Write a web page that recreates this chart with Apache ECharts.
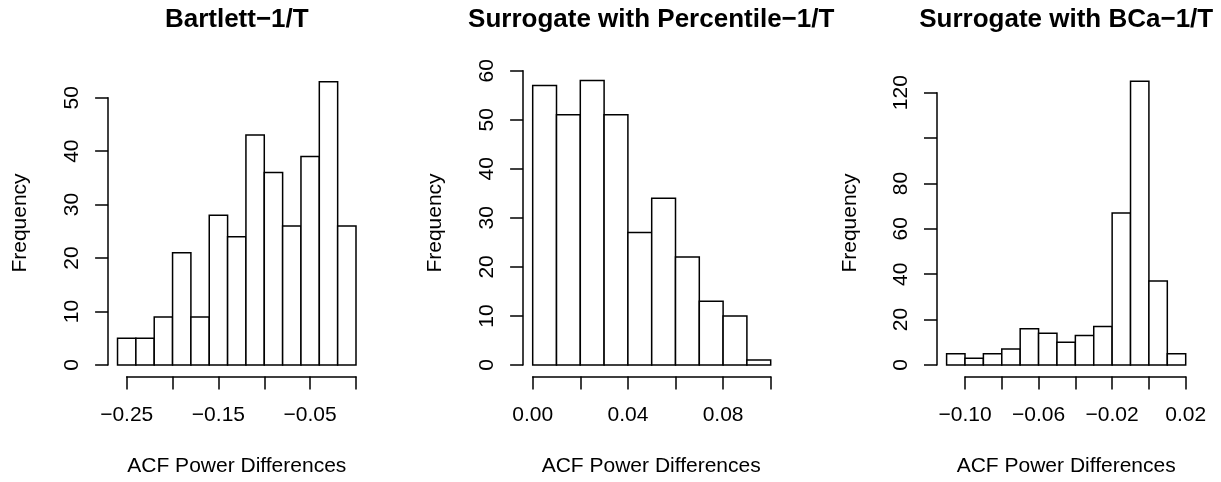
<!DOCTYPE html>
<html><head><meta charset="utf-8">
<script src="https://cdn.jsdelivr.net/npm/echarts@6/dist/echarts.min.js"></script>
<style>html,body{margin:0;padding:0;background:#fff}#c{width:1221px;height:482px}</style>
</head><body><div id="c"></div>
<script>
// ---------- data ----------
const titles = ['Bartlett\u22121/T', 'Surrogate with Percentile\u22121/T', 'Surrogate with BCa\u22121/T'];
const xTitle = 'ACF Power Differences';
const yTitle = 'Frequency';

// histogram bin edges and counts
const p1Edges = [-0.26,-0.24,-0.22,-0.20,-0.18,-0.16,-0.14,-0.12,-0.10,-0.08,-0.06,-0.04,-0.02,0.00];
const p1Counts = [5,5,9,21,9,28,24,43,36,26,39,53,26];

const p2Edges = [0.00,0.01,0.02,0.03,0.04,0.05,0.06,0.07,0.08,0.09,0.10];
const p2Counts = [57,51,58,51,27,34,22,13,10,1];

const p3Edges = [-0.11,-0.10,-0.09,-0.08,-0.07,-0.06,-0.05,-0.04,-0.03,-0.02,-0.01,0.00,0.01,0.02];
const p3Counts = [5,3,5,7,16,14,10,13,17,67,125,37,5];

// axis ticks (min, max, interval) and which tick labels are printed
const p1XTicks = [-0.25, 0.00, 0.05];
const p2XTicks = [0.00, 0.10, 0.02];
const p3XTicks = [-0.10, 0.02, 0.02];
const p1YTicks = [0, 50, 10];
const p2YTicks = [0, 60, 10];
const p3YTicks = [0, 120, 20];
const p1XLabels = ['-0.25','-0.15','-0.05'];
const p2XLabels = ['0.00','0.04','0.08'];
const p3XLabels = ['-0.10','-0.06','-0.02','0.02'];
const p1YLabels = ['0','10','20','30','40','50'];
const p2YLabels = ['0','10','20','30','40','50','60'];
const p3YLabels = ['0','20','40','60','80','120'];

// ---------- layout ----------
const FONT = 'Liberation Sans, Arial, Helvetica, sans-serif';
const LW = 1.5;
const grids = [
  {left:126.7, top:97.7, width:229.3, height:267.3},
  {left:532.7, top:70.7, width:238.0, height:294.3},
  {left:965.0, top:92.7, width:220.7, height:272.3}
];
const yOffsets = [18.6, 9.6, 28.0];
const xOffset = 11.4;
const centersX = [236.8, 651.2, 1066.2];
const freqX = [20, 435, 850];

const panels = [
  {edges:p1Edges, counts:p1Counts, xt:p1XTicks, yt:p1YTicks, xl:p1XLabels, yl:p1YLabels},
  {edges:p2Edges, counts:p2Counts, xt:p2XTicks, yt:p2YTicks, xl:p2XLabels, yl:p2YLabels},
  {edges:p3Edges, counts:p3Counts, xt:p3XTicks, yt:p3YTicks, xl:p3XLabels, yl:p3YLabels}
];

function fmt2(v){ const s=(Math.abs(v)<1e-12?0:v).toFixed(2); return s; }

const option = {
  backgroundColor:'#ffffff',
  animation:false,
  grid: grids.map(g => Object.assign({containLabel:false}, g)),
  xAxis: panels.map((p,i) => ({
    type:'value', gridIndex:i, min:p.xt[0], max:p.xt[1], interval:p.xt[2],
    position:'bottom', offset:xOffset,
    axisLine:{show:true, onZero:false, lineStyle:{color:'#000', width:LW}},
    axisTick:{show:true, length:13, lineStyle:{color:'#000', width:LW}},
    splitLine:{show:false},
    axisLabel:{show:true, color:'#000', fontSize:21, fontFamily:FONT, margin:28,
      showMinLabel:true, showMaxLabel:true, hideOverlap:false,
      formatter:(v)=>{ const s=fmt2(v); return p.xl.includes(s) ? s.replace('-','\u2212') : ''; }}
  })),
  yAxis: panels.map((p,i) => ({
    type:'value', gridIndex:i, min:p.yt[0], max:p.yt[1], interval:p.yt[2],
    position:'left', offset:yOffsets[i],
    axisLine:{show:true, onZero:false, lineStyle:{color:'#000', width:LW}},
    axisTick:{show:true, length:13, lineStyle:{color:'#000', width:LW}},
    splitLine:{show:false},
    axisLabel:{show:true, color:'#000', fontSize:21, fontFamily:FONT, margin:25, rotate:90,
      showMinLabel:true, showMaxLabel:true, hideOverlap:false,
      formatter:(v)=>{ const s=String(Math.round(v)); return p.yl.includes(s) ? s : ''; }}
  })),
  series: panels.map((p,i) => ({
    type:'custom', xAxisIndex:i, yAxisIndex:i, clip:false,
    encode:{x:[0,1], y:2},
    data: p.counts.map((c,k) => [p.edges[k], p.edges[k+1], c]),
    renderItem:(params, api) => {
      const a = api.coord([api.value(0), api.value(2)]);
      const b = api.coord([api.value(1), 0]);
      return {type:'rect', shape:{x:a[0], y:a[1], width:b[0]-a[0], height:b[1]-a[1]},
        style:{fill:'#ffffff', stroke:'#000000', lineWidth:LW}};
    }
  })),
  graphic: [].concat(
    titles.map((t,i) => ({type:'text', x:centersX[i], y:20,
      style:{text:t, fill:'#000', font:'bold 26px '+FONT, align:'center', verticalAlign:'middle'}})),
    titles.map((t,i) => ({type:'text', x:centersX[i], y:466,
      style:{text:xTitle, fill:'#000', font:'21px '+FONT, align:'center', verticalAlign:'middle'}})),
    titles.map((t,i) => ({type:'text', x:freqX[i], y:223, rotation:Math.PI/2,
      style:{text:yTitle, fill:'#000', font:'21px '+FONT, align:'center', verticalAlign:'middle'}}))
  )
};
const chart = echarts.init(document.getElementById('c'), null, {renderer:'canvas'});
chart.setOption(option);
</script></body></html>
